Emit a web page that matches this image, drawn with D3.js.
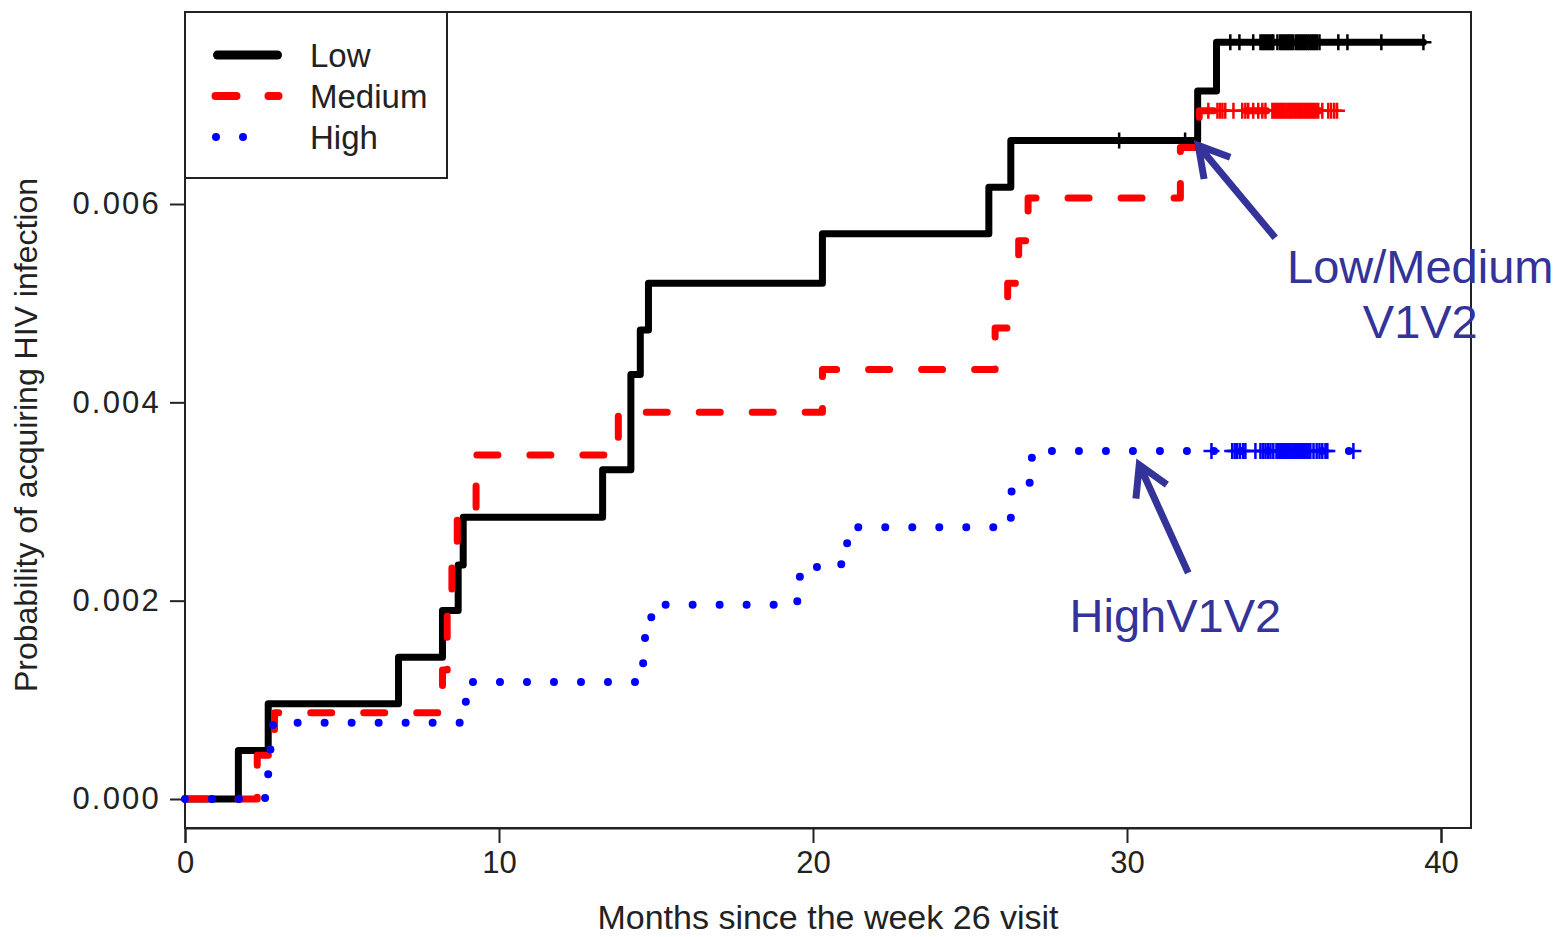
<!DOCTYPE html>
<html>
<head>
<meta charset="utf-8">
<script src="https://cdn.jsdelivr.net/npm/d3@7"></script>
<style>
  body { margin: 0; background: #fff; }
  text { font-family: "Liberation Sans", Arial, sans-serif; }
</style>
</head>
<body>
<div id="chart"></div>
<script>
// step points (months, cumulative probability)
const lowTime  = [0, 1.7, 2.65, 6.8, 8.2, 8.7, 8.86, 13.3, 14.2, 14.5, 14.76, 20.3, 25.6, 26.3, 32.25, 32.85, 39.44];
const lowProb  = [0, 0.00049, 0.00096, 0.00143, 0.0019, 0.00236, 0.00284, 0.00332, 0.00428, 0.00473, 0.0052, 0.0057, 0.00617, 0.00664, 0.00714, 0.00763, 0.00763];
const medTime  = [0, 2.3, 2.85, 8.2, 8.35, 8.5, 8.67, 9.27, 13.8, 20.3, 25.8, 26.2, 26.55, 26.85, 31.7, 32.3, 36.95];
const medProb  = [0, 0.00044, 0.00087, 0.0013, 0.0019, 0.0024, 0.0029, 0.00347, 0.0039, 0.00433, 0.00475, 0.0052, 0.00563, 0.00606, 0.00657, 0.00694, 0.00694];
const highTime = [0, 2.55, 2.65, 2.8, 8.8, 9.0, 14.45, 14.65, 14.85, 19.5, 20.05, 20.9, 21.35, 26.3, 26.9, 27.3, 37.21];
const highProb = [0, 0.00025, 0.0005, 0.00077, 0.00098, 0.00118, 0.00137, 0.00167, 0.00196, 0.00224, 0.00234, 0.00258, 0.00274, 0.0031, 0.00344, 0.00351, 0.00351];

// censoring times (the + marks)
const lowCensor  = [29.75, 31.85, 33.29, 33.58, 34.02,
                    34.25, 34.31, 34.37, 34.43, 34.49, 34.55, 34.61, 34.66, 34.79,
                    34.88, 34.94, 35.0, 35.06, 35.12, 35.18, 35.24, 35.3,
                    35.39, 35.45, 35.51, 35.57, 35.63, 35.69, 35.75, 35.81, 35.87, 35.93, 35.99, 36.05, 36.13,
                    36.73, 37.02, 38.1, 39.44];
const medCensor  = [32.59, 32.88, 32.96, 33.04, 33.13, 33.39, 33.67, 33.77, 33.86, 34.02, 34.18, 34.31, 34.41,
                    34.63, 34.69, 34.75, 34.81, 34.87, 34.93, 34.99, 35.05, 35.11, 35.17, 35.23, 35.29, 35.35,
                    35.41, 35.47, 35.53, 35.59, 35.65, 35.71, 35.77, 35.83, 35.89, 35.95, 36.01, 36.09,
                    36.22, 36.41, 36.5, 36.6, 36.69];
const highCensor = [32.69, 33.35, 33.43, 33.51, 33.6, 33.7, 33.77, 34.09,
                    34.25, 34.33, 34.41, 34.49, 34.57, 34.66, 34.76, 34.82,
                    34.88, 34.94, 35.0, 35.06, 35.12, 35.18, 35.24, 35.3, 35.36, 35.42, 35.48, 35.54,
                    35.6, 35.66, 35.72, 35.78, 35.84, 35.94, 36.04, 36.13, 36.22, 36.32, 36.38, 37.21];

const groupNames  = ["Low", "Medium", "High"];
const groupColors = ["#000000", "#ff0000", "#0000ff"];

const xTicks = [0, 10, 20, 30, 40];
const yTicks = [0, 0.002, 0.004, 0.006];

// annotations in data units
const noteLabels = ["Low/Medium", "V1V2", "HighV1V2"];
const noteX      = [39.34, 39.34, 31.54];
const noteY      = [0.0052, 0.00465, 0.00168];
const arrowFrom  = [[34.72, 0.00566], [31.95, 0.00228]];
const arrowTo    = [[32.27, 0.00659], [30.39, 0.00337]];

class KMChart {
    constructor(div) {
        this.TOTAL_WIDTH = 1558
        this.TOTAL_HEIGHT = 937
        this.BOX_LEFT = 185
        this.BOX_RIGHT = 1471
        this.BOX_TOP = 12
        this.BOX_BOTTOM = 828
        this.NAVY = "#333399"

        this.svg = div.append("svg")
            .attr("width", this.TOTAL_WIDTH)
            .attr("height", this.TOTAL_HEIGHT);

        this.x = d3.scaleLinear().domain([0, 40]).range([this.BOX_LEFT, 1441]);
        this.y = d3.scaleLinear().domain([0, 0.006]).range([799, 204]);

        this.styles = [
            { dash: null, width: 7 },
            { dash: "21,32", width: 7 },
            { dash: "0,27", width: 8 }
        ];
    }

    drawAxes() {
        let svg = this.svg;

        svg.append("rect")
            .attr("x", this.BOX_LEFT)
            .attr("y", this.BOX_TOP)
            .attr("width", this.BOX_RIGHT - this.BOX_LEFT)
            .attr("height", this.BOX_BOTTOM - this.BOX_TOP)
            .attr("fill", "none")
            .attr("stroke", "#222")
            .attr("stroke-width", 2);

        let xAxis = d3.axisBottom(this.x)
            .tickValues(xTicks)
            .tickSize(15)
            .tickPadding(8)
            .tickFormat(d3.format("d"));

        let gx = svg.append("g")
            .attr("transform", `translate(0, ${this.BOX_BOTTOM})`)
            .call(xAxis);
        gx.select(".domain").attr("stroke", "#222").attr("stroke-width", 2);
        gx.selectAll(".tick line").attr("stroke", "#222").attr("stroke-width", 2);
        gx.selectAll(".tick text")
            .attr("fill", "#222")
            .style("font-size", "31px")
            .style("font-family", "'Liberation Sans', Arial, sans-serif");

        let yAxis = d3.axisLeft(this.y)
            .tickValues(yTicks)
            .tickSize(15)
            .tickPadding(9)
            .tickFormat(d3.format(".3f"));

        let gy = svg.append("g")
            .attr("transform", `translate(${this.BOX_LEFT}, 0)`)
            .call(yAxis);
        gy.select(".domain").remove();
        gy.selectAll(".tick line").attr("stroke", "#222").attr("stroke-width", 2);
        gy.selectAll(".tick text")
            .attr("fill", "#222")
            .style("font-size", "31px")
            .style("letter-spacing", "2.2px")
            .style("font-family", "'Liberation Sans', Arial, sans-serif");

        svg.append("text")
            .text("Months since the week 26 visit")
            .attr("x", (this.BOX_LEFT + this.BOX_RIGHT) / 2)
            .attr("y", 929)
            .attr("text-anchor", "middle")
            .attr("fill", "#222")
            .style("font-size", "34px");

        svg.append("text")
            .text("Probability of acquiring HIV infection")
            .attr("transform", "translate(37, 435) rotate(-90)")
            .attr("text-anchor", "middle")
            .attr("fill", "#222")
            .style("font-size", "32px");
    }

    drawCurves() {
        let groups = [
            { time: lowTime, prob: lowProb, censor: lowCensor },
            { time: medTime, prob: medProb, censor: medCensor },
            { time: highTime, prob: highProb, censor: highCensor }
        ];

        let line = d3.line()
            .x(d => this.x(d[0]))
            .y(d => this.y(d[1]))
            .curve(d3.curveStepAfter);

        let g = this.svg.append("g").attr("id", "curves");

        groups.forEach((grp, i) => {
            let pts = grp.time.map((t, j) => [t, grp.prob[j]]);
            let st = this.styles[i];

            g.append("path")
                .attr("d", line(pts))
                .attr("fill", "none")
                .attr("stroke", groupColors[i])
                .attr("stroke-width", st.width)
                .attr("stroke-linecap", "round")
                .attr("stroke-linejoin", "round")
                .attr("stroke-dasharray", st.dash);

            // + marks sit on the curve value at the censor time
            g.append("g").selectAll("path")
                .data(grp.censor)
                .join("path")
                .attr("d", "M-8,0H8M0,-8V8")
                .attr("transform", t => {
                    let k = Math.max(0, d3.bisectRight(grp.time, t) - 1);
                    return `translate(${this.x(t)}, ${this.y(grp.prob[k])})`;
                })
                .attr("stroke", groupColors[i])
                .attr("stroke-width", 2.5)
                .attr("fill", "none");
        });
    }

    drawLegend() {
        let g = this.svg.append("g").attr("id", "legend");

        g.append("rect")
            .attr("x", this.BOX_LEFT)
            .attr("y", this.BOX_TOP)
            .attr("width", 262)
            .attr("height", 166)
            .attr("fill", "white")
            .attr("stroke", "#222")
            .attr("stroke-width", 2);

        let rowY = [55, 96, 137];
        let lineX = [[217.5, 277.5], [215.5, 278.5], [216, 270]];
        let widths = [9, 8, 8];

        groupNames.forEach((name, i) => {
            g.append("line")
                .attr("x1", lineX[i][0])
                .attr("x2", lineX[i][1])
                .attr("y1", rowY[i])
                .attr("y2", rowY[i])
                .attr("stroke", groupColors[i])
                .attr("stroke-width", widths[i])
                .attr("stroke-linecap", "round")
                .attr("stroke-dasharray", this.styles[i].dash);

            g.append("text")
                .text(name)
                .attr("x", 310)
                .attr("y", rowY[i] + 12)
                .attr("fill", "#222")
                .style("font-size", "33px");
        });
    }

    drawNotes() {
        let g = this.svg.append("g").attr("id", "notes");

        noteLabels.forEach((lab, i) => {
            g.append("text")
                .text(lab)
                .attr("x", this.x(noteX[i]))
                .attr("y", this.y(noteY[i]))
                .attr("text-anchor", "middle")
                .attr("fill", this.NAVY)
                .style("font-size", "47px");
        });

        arrowFrom.forEach((from, i) => {
            let x0 = this.x(from[0]), y0 = this.y(from[1]);
            let x1 = this.x(arrowTo[i][0]), y1 = this.y(arrowTo[i][1]);
            let ang = Math.atan2(y0 - y1, x0 - x1);
            let len = 34, spread = Math.PI / 6;
            let wa = [x1 + len * Math.cos(ang + spread), y1 + len * Math.sin(ang + spread)];
            let wb = [x1 + len * Math.cos(ang - spread), y1 + len * Math.sin(ang - spread)];

            g.append("path")
                .attr("d", `M${x0},${y0}L${x1},${y1}M${wa[0]},${wa[1]}L${x1},${y1}L${wb[0]},${wb[1]}`)
                .attr("fill", "none")
                .attr("stroke", this.NAVY)
                .attr("stroke-width", 7)
                .attr("stroke-linecap", "butt")
                .attr("stroke-linejoin", "miter");
        });
    }
}

let chart = new KMChart(d3.select("#chart"));
chart.drawAxes();
chart.drawCurves();
chart.drawLegend();
chart.drawNotes();
</script>
</body>
</html>
